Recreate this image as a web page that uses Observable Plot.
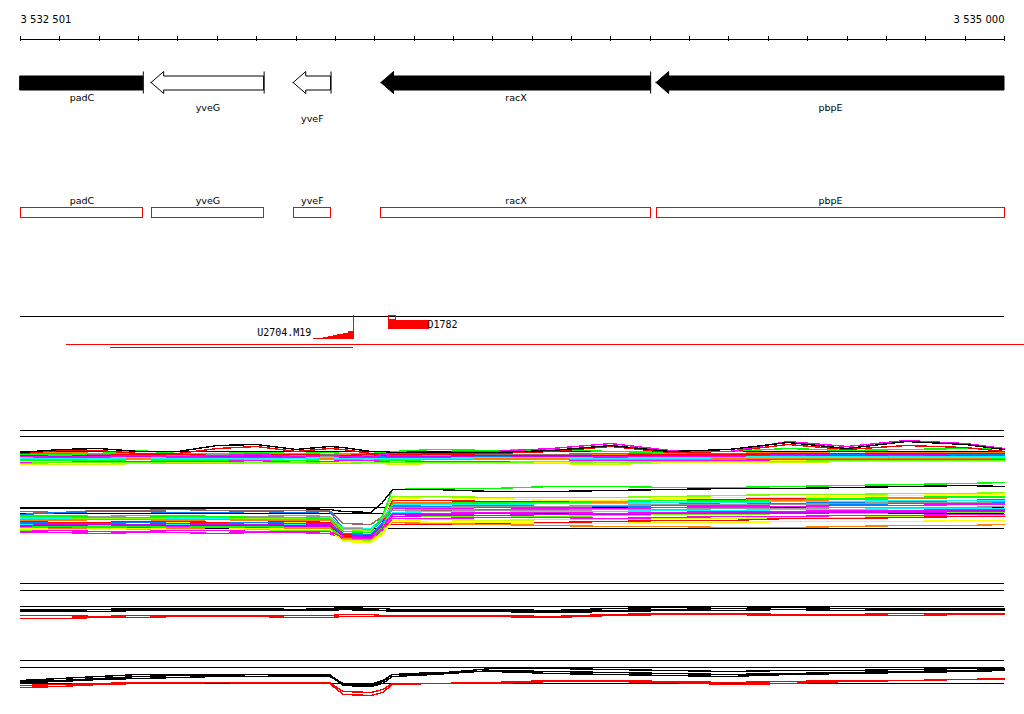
<!DOCTYPE html>
<html><head><meta charset="utf-8">
<script src="https://cdn.jsdelivr.net/npm/d3@7"></script>
<script src="https://cdn.jsdelivr.net/npm/@observablehq/plot@0.6"></script>
<style>body{margin:0;background:#fff;} #chart svg{display:block;}</style>
</head><body><div id="chart"></div>
<script>
// ---------------- DATA ----------------
const xDomain = [3532500, 3535000];
const rulerTicks = d3.range(3532500, 3535001, 100);
const rulerLabelPos = [3532500, 3535000];
const rulerLabelText = ["3 532 501", "3 535 000"];

const geneNames = ["padC", "yveG", "yveF", "racX", "pbpE"];
const geneStart = [3532380, 3532833, 3533194, 3533417, 3534116];
const geneEnd   = [3532812, 3533119, 3533289, 3534101, 3535350];
const geneSolid = [true, false, false, true, true];

const oligoTrackSpan = [3532500, 3535000];
const stairPos   = [3533244, 3533269, 3533283, 3533296, 3533306, 3533321, 3533333, 3533345];
const stairLevel = [0.7, 1.3, 2.3, 3.7, 5, 6, 7.3, 7.3];
const oligoName1 = "U2704.M19";
const oligoName1End = 3533239;
const oligoName2 = "D1782";
const oligoName2Start = 3533534;
const hybStart = [3532617, 3532729];
const hybEnd   = [3535060, 3533345];
const smallBox = [3533435, 3533455];
const redBlock = [3533435, 3533539];

const probePos = [3532500,3532600,3532700,3532800,3532900,3533000,3533100,3533200,3533285,3533320,3533390,3533420,3533445,3533550,3533700,3533850,3534000,3534150,3534300,3534450,3534600,3534750,3534900,3535000];

const panel1Colors = ["#ff8000","#999999","#996666","#0080ff","#00ffff","#ff00ff","#cc00ff","#00ff00","#ffff00","#ccff00","#ff0000","#ff8000","#ff00ff","#00ffff","#66ff00","#00ff00","#ff0000","#ff00ff","#000000"];
const panel1Values = [
 [18,18,17,17,16,16,16,17,16,16,16,15,15,15,15,16,16,17,17,18,17,18,18,18],
 [16,15,15,15,15,16,15,15,14,14,15,16,16,16,16,15,15,16,16,17,17,17,17,16],
 [17,17,16,16,16,17,17,16,16,17,17,17,16,17,16,16,17,16,17,16,16,16,17,17],
 [15,14,14,14,13,13,13,14,15,14,14,14,15,14,14,14,13,14,15,15,16,15,16,16],
 [12,12,11,11,12,12,11,12,11,10,11,12,12,11,11,12,12,13,13,13,14,13,13,14],
 [13,13,13,12,13,13,14,13,12,12,13,13,13,13,12,13,14,14,14,15,15,15,14,15],
 [14,14,15,14,14,14,14,14,13,13,14,15,14,14,15,14,15,15,15,16,15,16,15,15],
 [10,10,10,11,10,10,10,10,11,11,10,10,10,11,11,11,12,12,11,12,13,12,12,12],
 [9,9,9,8,9,8,9,9,8,9,9,9,9,8,8,8,9,9,10,10,10,11,10,10],
 [6,6,6,7,8,8,7,7,8,8,7,7,6,7,7,7,6,8,8,8,9,9,9,9],
 [15,16,15,16,16,15,15,16,15,15,16,15,16,16,15,15,15,16,16,17,17,17,17,17],
 [11,11,12,12,11,11,12,12,12,12,12,11,11,11,12,12,11,11,12,12,12,12,12,13],
 [8,8,9,9,9,9,10,8,9,10,10,9,8,9,9,9,10,10,10,11,11,11,11,11],
 [13,12,12,13,12,12,12,12,13,12,12,12,12,12,13,13,12,12,13,14,13,14,14,13],
 [7,8,8,8,7,7,8,8,7,7,8,8,8,8,8,9,8,9,9,9,10,10,10,10],
 [16,16,17,20,17,17,18,17,18,17,17,18,19,21,20,21,19,18,19,22,20,21,22,22],
 [17,20,20,17,17,22,24,19,22,21,17,17,17,17,17,19,24,18,19,26,21,25,23,19],
 [14,13,14,15,14,15,16,14,15,14,13,16,17,18,19,22,27,20,19,29,24,30,27,22],
 [18,21,22,19,19,25,26,21,24,23,19,19,18,18,18,20,25,19,21,28,22,29,26,21]
];
const panel1Refs = [40, 34, 19];

const panel2Colors = ["#996666","#0080ff","#ffff00","#ff8000","#ff0000","#ff00ff","#00ffff","#cc00ff","#999999","#66ff00","#ccff00","#ff00ff","#0080ff","#ff0000","#ff8000","#00ffff","#ffff00","#999999","#cc00ff","#80ff00","#00ff00","#ff00ff","#00ff00","#000000"];
const panel2Values = [
 [49,48,50,50,51,50,50,50,50,37,36,44,50,50,51,51,52,53,53,54,55,55,56,57],
 [46,48,49,49,48,48,49,48,49,32,30,40,55,56,55,54,55,56,58,57,58,59,60,61],
 [37,37,38,39,38,38,37,38,37,25,24,36,62,63,62,60,60,62,63,63,64,65,66,66],
 [40,40,41,41,40,41,40,40,40,27,26,38,58,58,57,57,58,58,59,60,61,62,63,63],
 [39,38,38,39,39,38,38,39,38,26,25,38,60,60,59,59,59,60,61,62,62,63,64,64],
 [33,33,34,33,34,34,33,33,33,23,22,34,52,52,53,52,52,53,54,54,55,55,56,56],
 [36,36,35,36,36,35,36,36,35,25,24,36,48,49,48,49,49,50,50,51,51,52,52,52],
 [34,35,34,35,35,34,35,34,34,24,23,34,46,46,47,46,47,48,48,48,49,49,50,50],
 [41,41,42,42,41,42,41,41,41,31,30,42,50,51,50,50,51,51,52,52,53,53,53,54],
 [30,30,31,31,30,31,31,30,30,21,20,30,44,44,45,44,45,46,46,47,47,48,48,48],
 [31,31,32,32,31,31,32,31,31,20,19,28,40,41,40,41,41,42,42,43,43,44,44,45],
 [28,28,27,28,28,27,28,28,27,22,21,31,42,42,43,43,42,43,44,44,45,45,46,46],
 [38,37,37,38,37,37,38,37,37,27,26,37,54,54,53,53,54,55,55,56,56,57,57,58],
 [35,35,36,36,35,35,36,35,35,24,23,35,36,36,37,38,39,40,40,42,42,43,44,44],
 [32,32,33,32,32,33,32,32,32,22,21,32,38,37,36,35,34,34,33,33,34,35,35,36],
 [42,42,43,43,42,42,42,43,42,33,32,42,56,56,56,57,57,58,58,59,59,60,60,60],
 [32,31,31,32,31,31,32,31,31,19,18,26,40,38,38,37,37,38,38,39,39,39,40,40],
 [45,45,44,45,45,44,44,45,44,32,31,42,53,53,54,54,55,56,56,56,57,58,58,59],
 [37,36,36,36,37,36,36,37,36,25,24,36,44,45,45,46,46,47,47,47,48,48,49,49],
 [43,43,42,42,43,43,42,42,43,31,30,44,64,64,63,63,63,64,65,66,66,67,67,68],
 [33,34,34,34,33,34,34,33,33,23,22,33,57,57,58,58,59,60,60,61,62,63,64,64],
 [29,30,29,29,30,30,29,29,29,23,22,32,47,47,48,48,47,48,49,49,50,50,51,51],
 [44,44,43,43,44,44,43,43,42,29,28,45,71,72,72,74,74,73,73,74,75,76,77,78],
 [52,52,52,52,52,52,52,52,51,49,48,58,71,71,69,69,70,71,72,72,73,74,75,74]
];
const panel2Refs = [53, 47, 32];

const panel3Colors = ["#ff0000","#ff0000","#000000","#000000","#000000"];
const panel3Values = [
 [25,25,24,25,25,25,25,25,25,26,26,25,25,25,25,24,26,27,27,26,26,27,27,27],
 [22,22,23,23,24,24,24,23,23,24,24,24,24,24,24,23,25,26,26,25,25,25,26,26],
 [30,30,31,32,32,32,32,31,32,33,32,32,31,31,31,30,32,33,34,33,32,32,32,32],
 [29,29,29,30,30,30,30,30,31,32,31,30,30,30,30,29,30,31,32,31,30,31,31,31],
 [31,31,31,31,31,31,31,30,30,31,30,30,29,29,29,28,29,30,30,31,30,30,30,30]
];
const panel3Refs = [57, 50, 34];

const panel4Colors = ["#ff0000","#ff0000","#000000","#000000","#000000"];
const panel4Values = [
 [29,30,31,32,32,32,32,32,32,23,22,25,31,31,32,34,34,33,32,33,34,34,35,36],
 [27,28,30,31,31,32,31,31,31,20,19,22,30,31,31,33,33,32,30,31,33,34,35,35],
 [34,36,38,40,40,40,40,40,40,30,29,33,40,41,46,46,45,44,43,44,44,45,46,46],
 [33,34,36,38,39,39,38,39,39,29,28,31,38,40,44,43,42,41,40,41,42,43,44,45],
 [32,33,35,36,37,38,38,38,38,31,30,34,40,42,43,41,40,39,38,40,41,42,43,44]
];
const panel4Refs = [54, 47, 31];

// ---------------- DRAWING ----------------
const W = 1024;
const sans = "'DejaVu Sans', sans-serif";
const mono = "'DejaVu Sans Mono', monospace";
const chart = document.getElementById("chart");

function track(h, yDomain, yRange, marks) {
  const svg = Plot.plot({
    width: W, height: h, marginLeft: 20, marginRight: 20, marginTop: 0, marginBottom: 0,
    x: {domain: xDomain, range: [20, 1004], axis: null},
    y: {domain: yDomain, range: yRange, axis: null},
    style: {background: "white", overflow: "visible"},
    marks
  });
  chart.appendChild(svg);
}

// ruler (page 0-50)
track(50, [0, 50], [0, 50], [
  Plot.ruleY([38.5], {x1: xDomain[0], x2: xDomain[1], stroke: "black", shapeRendering: "crispEdges"}),
  Plot.ruleX(rulerTicks, {y1: 36, y2: 41, stroke: "black", shapeRendering: "crispEdges"}),
  Plot.text([0], {x: rulerLabelPos[0], y: 19.5, text: () => rulerLabelText[0], textAnchor: "start", fontFamily: sans, fontSize: 10, fill: "black"}),
  Plot.text([0], {x: rulerLabelPos[1], y: 19.5, text: () => rulerLabelText[1], textAnchor: "end", fontFamily: sans, fontSize: 10, fill: "black"})
]);

// genes
const headLen = 32;
const genes = geneNames.map((name, i) => {
  const s = Math.max(geneStart[i], xDomain[0]);
  const e = Math.min(geneEnd[i], xDomain[1]);
  return {name, i, s, e, head: geneStart[i] >= xDomain[0], tail: geneEnd[i] <= xDomain[1], solid: geneSolid[i]};
});
const labelRow = [0, 1, 2, 0, 1];
function arrowPts(g) {
  const pts = [];
  let hb = g.s;
  if (g.head) {
    hb = g.s + headLen;
    pts.push({x: g.s, lo: 32.5, hi: 32.5}, {x: hb, lo: 43.5, hi: 21.5});
  }
  pts.push({x: hb, lo: 40, hi: 26}, {x: g.e, lo: 40, hi: 26});
  return pts;
}
const geneMarks = genes.map(g => Plot.areaY(arrowPts(g), {
  x: "x", y1: "lo", y2: "hi", curve: "linear",
  fill: g.solid ? "black" : "white", stroke: "black", strokeWidth: 1
}));
track(75, [0, 75], [0, 75], [
  ...geneMarks,
  Plot.ruleX(genes.filter(g => g.tail), {x: "e", y1: 21.5, y2: 43.5, stroke: "black"}),
  Plot.text(genes, {x: g => (g.s + g.e) / 2, y: g => 47 + labelRow[g.i] * 10.5, text: "name", fontFamily: sans, fontSize: 9.5, fill: "black"})
]);

// gene boxes (page 125-230)
track(105, [0, 105], [0, 105], [
  Plot.rect(genes, {x1: "s", x2: "e", y1: 82.5, y2: 92.5, fill: "none", stroke: "red", shapeRendering: "crispEdges"}),
  Plot.text(genes, {x: g => (g.s + g.e) / 2, y: 75.5, text: "name", fontFamily: sans, fontSize: 9.5, fill: "black"})
]);

// oligo track (page 230-360)
const stairs = stairPos.map((p, i) => ({pos: p, level: stairLevel[i]}));
const hyb = hybStart.map((s, i) => ({s, e: hybEnd[i], row: i}));
track(130, [0, 130], [0, 130], [
  Plot.ruleY([85.5], {x1: oligoTrackSpan[0], x2: oligoTrackSpan[1], stroke: "black", shapeRendering: "crispEdges"}),
  Plot.areaY(stairs, {x: "pos", y1: 108.5, y2: d => 108.5 - d.level, curve: "step-after", fill: "red", shapeRendering: "crispEdges"}),
  Plot.ruleX([stairPos[stairPos.length - 1]], {y1: 85, y2: 108.5, stroke: "red", shapeRendering: "crispEdges"}),
  Plot.ruleY(hyb, {y: d => 113.5 + d.row * 3, x1: "s", x2: "e", stroke: "red", shapeRendering: "crispEdges"}),
  Plot.rect([0], {x1: smallBox[0], x2: smallBox[1], y1: 85.5, y2: 89.5, fill: "none", stroke: "red", shapeRendering: "crispEdges"}),
  Plot.rect([0], {x1: redBlock[0], x2: redBlock[1], y1: 89.5, y2: 98.5, fill: "red", shapeRendering: "crispEdges"}),
  Plot.text([0], {x: oligoName1End, y: 102, text: () => oligoName1, textAnchor: "end", fontFamily: mono, fontSize: 10, fill: "black"}),
  Plot.text([0], {x: oligoName2Start, y: 94, text: () => oligoName2, textAnchor: "start", fontFamily: mono, fontSize: 10, fill: "black"})
]);

// expression panels
function panel(h, values, colors, refs) {
  const marks = [
    Plot.ruleY(refs, {x1: xDomain[0], x2: xDomain[1], stroke: "black", strokeWidth: 1, shapeRendering: "crispEdges"})
  ];
  values.forEach((vals, k) => {
    marks.push(Plot.line(probePos.map((p, j) => ({x: p, v: vals[j]})), {
      x: "x", y: "v", stroke: colors[k], strokeWidth: 1.4, shapeRendering: "crispEdges"
    }));
  });
  track(h, [0, h], [h, 0], marks);
}
panel(110, panel1Values, panel1Colors, panel1Refs); // page 360-470
panel(90, panel2Values, panel2Colors, panel2Refs);  // page 470-560
panel(80, panel3Values, panel3Colors, panel3Refs);  // page 560-640
panel(74, panel4Values, panel4Colors, panel4Refs);  // page 640-714
</script></body></html>
